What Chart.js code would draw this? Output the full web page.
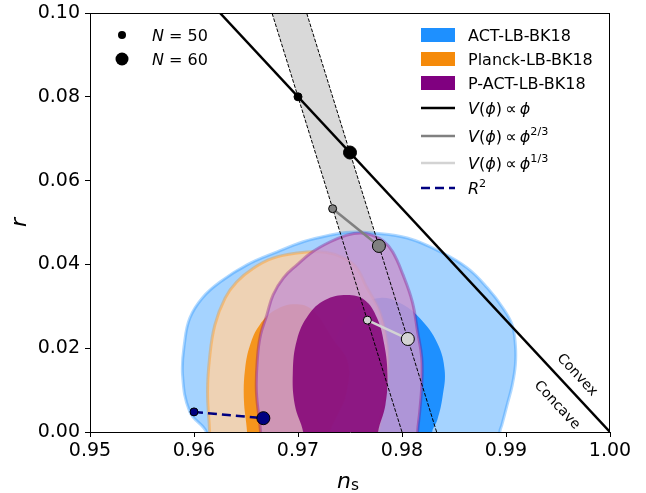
<!DOCTYPE html>
<html>
<head>
<meta charset="utf-8">
<script src="https://cdn.jsdelivr.net/npm/chart.js@4.4.1/dist/chart.umd.min.js"></script>
<style>
  body { margin: 0; background: #fff; }
  canvas { display: block; }
</style>
</head>
<body>
<canvas id="chart" width="646" height="493"></canvas>
<script>
const FONT = '"DejaVu Sans", sans-serif';

// axis ticks
const nsTicks = [0.95, 0.96, 0.97, 0.98, 0.99, 1.0];
const rTicks = [0, 0.02, 0.04, 0.06, 0.08, 0.1];

// contours (ns, r); the ends dip below r = 0 and get clipped
const actOuterNs = [0.9612, 0.9612, 0.9596, 0.9589, 0.9591, 0.9596, 0.9608, 0.9625, 0.9651, 0.9680, 0.9705, 0.9731, 0.9750, 0.9772, 0.9805, 0.9837, 0.9863, 0.9882, 0.9897, 0.9906, 0.9909, 0.9909, 0.9906, 0.9901, 0.9896, 0.9894, 0.9894];
const actOuterR = [-0.004, 0, 0.0048, 0.0136, 0.0215, 0.0272, 0.0320, 0.0358, 0.0399, 0.0430, 0.0454, 0.0470, 0.0477, 0.0475, 0.0463, 0.0430, 0.0391, 0.0344, 0.0296, 0.0255, 0.0208, 0.0160, 0.0112, 0.0064, 0.0017, 0, -0.004];
const actInnerNs = [0.9731, 0.9731, 0.9726, 0.9728, 0.9736, 0.9747, 0.9760, 0.9779, 0.9798, 0.9817, 0.9834, 0.9841, 0.9839, 0.9834, 0.9829, 0.9829];
const actInnerR = [-0.004, 0, 0.0076, 0.0148, 0.0220, 0.0272, 0.0303, 0.0320, 0.0308, 0.0272, 0.0212, 0.0148, 0.0084, 0.0029, 0, -0.004];

const planckOuterNs = [0.9615, 0.9615, 0.9613, 0.9615, 0.9620, 0.9630, 0.9641, 0.9657, 0.9676, 0.9699, 0.9721, 0.9740, 0.9755, 0.9766, 0.9779, 0.9786, 0.9786, 0.9782, 0.9777, 0.9777];
const planckOuterR = [-0.004, 0, 0.0096, 0.0177, 0.0255, 0.0320, 0.0358, 0.0391, 0.0415, 0.0427, 0.0430, 0.0420, 0.0396, 0.0346, 0.0284, 0.0203, 0.0131, 0.0060, 0, -0.004];
const planckInnerNs = [0.9651, 0.9651, 0.9648, 0.9649, 0.9654, 0.9663, 0.9678, 0.9697, 0.9714, 0.9734, 0.9748, 0.9746, 0.9738, 0.9731, 0.9731];
const planckInnerR = [-0.004, 0, 0.0076, 0.0148, 0.0208, 0.0255, 0.0291, 0.0305, 0.0291, 0.0220, 0.0165, 0.0088, 0.0041, 0, -0.004];

const pactOuterNs = [0.9664, 0.9664, 0.9660, 0.9661, 0.9664, 0.9670, 0.9676, 0.9686, 0.9699, 0.9714, 0.9731, 0.9747, 0.9760, 0.9771, 0.9782, 0.9791, 0.9801, 0.9810, 0.9815, 0.9819, 0.9819, 0.9817, 0.9815, 0.9815];
const pactOuterR = [-0.004, 0, 0.0096, 0.0177, 0.0232, 0.0279, 0.0327, 0.0368, 0.0399, 0.0430, 0.0454, 0.0470, 0.0475, 0.0470, 0.0456, 0.0430, 0.0375, 0.0310, 0.0239, 0.0177, 0.0112, 0.0048, 0, -0.004];
const pactInnerNs = [0.9705, 0.9705, 0.9697, 0.9695, 0.9699, 0.9710, 0.9726, 0.9747, 0.9764, 0.9776, 0.9783, 0.9786, 0.9784, 0.9777, 0.9777];
const pactInnerR = [-0.004, 0, 0.0064, 0.0141, 0.0220, 0.0279, 0.0315, 0.0327, 0.0315, 0.0272, 0.0208, 0.0136, 0.0064, 0, -0.004];

// model predictions, [N = 50, N = 60]
const linearNs = [0.97, 0.975];
const linearR = [0.08, 0.0667];
const twoThirdNs = [0.97333, 0.97778];
const twoThirdR = [0.0533, 0.0444];
const oneThirdNs = [0.97667, 0.98056];
const oneThirdR = [0.0267, 0.0222];
const r2Ns = [0.96, 0.96667];
const r2R = [0.0048, 0.0033];

// V ~ phi line (convex/concave boundary) and the constant-N lines
const boundaryNs = [0.9625, 1.0];
const boundaryR = [0.1, 0];
const n50Ns = [0.98, 0.9675];
const n50R = [0, 0.1];
const n60Ns = [0.98333, 0.97083];
const n60R = [0, 0.1];

const patchLabels = ['ACT-LB-BK18', 'Planck-LB-BK18', 'P-ACT-LB-BK18'];
const patchColors = ['#1e90ff', '#f58a0a', '#800080'];

const pts = (xs, ys) => xs.map((x, i) => ({ x: x, y: ys[i] }));

function contour(xs, ys, fill, edge, edgeWidth, order) {
  return {
    data: pts(xs, ys),
    showLine: true,
    fill: 'shape',
    backgroundColor: fill,
    borderColor: edge,
    borderWidth: edgeWidth,
    pointRadius: 0,
    tension: 0.4,
    order: order,
  };
}

function line(xs, ys, color, width, dash, order) {
  return {
    data: pts(xs, ys),
    showLine: true,
    fill: false,
    borderColor: color,
    borderWidth: width,
    borderDash: dash,
    pointRadius: 0,
    tension: 0,
    order: order,
  };
}

function markers(xs, ys, lineColor, fillColor, dash, order) {
  return {
    data: pts(xs, ys),
    showLine: lineColor !== null,
    fill: false,
    borderColor: lineColor || 'rgba(0,0,0,0)',
    borderWidth: 2.5,
    borderDash: dash,
    pointRadius: [4, 6.5],
    pointBackgroundColor: fillColor,
    pointBorderColor: '#000',
    pointBorderWidth: 1,
    tension: 0,
    order: order,
  };
}

function drawRich(ctx, x, y, parts, size, align) {
  const items = parts.map(p => {
    const s = p.sup || p.sub ? size * 0.7 : size;
    const font = (p.i ? 'italic ' : '') + s + 'px ' + FONT;
    ctx.font = font;
    return { p: p, font: font, w: ctx.measureText(p.t).width };
  });
  const total = items.reduce((a, b) => a + b.w, 0);
  let cx = align === 'center' ? x - total / 2 : x;
  ctx.textAlign = 'left';
  ctx.textBaseline = 'alphabetic';
  for (const it of items) {
    ctx.font = it.font;
    const dy = it.p.sup ? -size * 0.42 : it.p.sub ? size * 0.1 : 0;
    ctx.fillText(it.p.t, cx, y + dy);
    cx += it.w;
  }
}

const V = [{ t: 'V', i: 1 }, { t: '(' }, { t: 'ϕ', i: 1 }, { t: ')' }, { t: '\u2009∝\u2009' }, { t: 'ϕ', i: 1 }];
const lineLegend = [
  { parts: V, color: '#000', dash: [] },
  { parts: V.concat([{ t: '2/3', sup: 1 }]), color: '#808080', dash: [] },
  { parts: V.concat([{ t: '1/3', sup: 1 }]), color: '#d3d3d3', dash: [] },
  { parts: [{ t: 'R', i: 1 }, { t: '2', sup: 1 }], color: '#000080', dash: [9, 5] },
];
const lineLegendY = [108, 136, 163, 188];

const decor = {
  id: 'decor',
  afterDraw(chart) {
    const ctx = chart.ctx;
    const a = chart.chartArea;
    const sx = chart.scales.x;
    const sy = chart.scales.y;
    ctx.save();
    ctx.fillStyle = '#000';
    ctx.strokeStyle = '#000';

    // top and right spines
    ctx.lineWidth = 1;
    ctx.beginPath();
    ctx.moveTo(a.left, a.top + 0.5);
    ctx.lineTo(a.right, a.top + 0.5);
    ctx.moveTo(a.right - 0.5, a.top);
    ctx.lineTo(a.right - 0.5, a.bottom);
    ctx.stroke();

    // axis titles
    drawRich(ctx, 348, 488, [{ t: 'n', i: 1 }, { t: 's', sub: 1 }], 22, 'center');
    ctx.save();
    ctx.translate(26, (a.top + a.bottom) / 2);
    ctx.rotate(-Math.PI / 2);
    drawRich(ctx, 0, 0, [{ t: 'r', i: 1 }], 22, 'center');
    ctx.restore();

    // convex / concave labels along the V ~ phi line
    const ang = Math.atan2(sy.getPixelForValue(0) - sy.getPixelForValue(0.1),
      sx.getPixelForValue(1.0) - sx.getPixelForValue(0.9625));
    ctx.font = '14px ' + FONT;
    ctx.textAlign = 'center';
    ctx.textBaseline = 'middle';
    [['Convex', 0.99683, 0.0136], ['Concave', 0.9949, 0.0064]].forEach(([t, x, y]) => {
      ctx.save();
      ctx.translate(sx.getPixelForValue(x), sy.getPixelForValue(y));
      ctx.rotate(ang);
      ctx.fillText(t, 0, 0);
      ctx.restore();
    });

    // marker legend (top left)
    [[35, 4, '50'], [59, 6.5, '60']].forEach(([y, rad, n]) => {
      ctx.beginPath();
      ctx.arc(122, y, rad, 0, Math.PI * 2);
      ctx.fill();
      drawRich(ctx, 152, y + 6, [{ t: 'N', i: 1 }, { t: ' = ' + n }], 16, 'left');
    });

    // dataset legend (top right)
    patchLabels.forEach((lab, k) => {
      const y = 35 + 24 * k;
      ctx.fillStyle = patchColors[k];
      ctx.fillRect(421, y - 7, 34, 14);
      ctx.fillStyle = '#000';
      drawRich(ctx, 468, y + 6, [{ t: lab }], 16, 'left');
    });
    lineLegend.forEach((e, k) => {
      const y = lineLegendY[k];
      ctx.strokeStyle = e.color;
      ctx.lineWidth = 2.5;
      ctx.setLineDash(e.dash);
      ctx.beginPath();
      ctx.moveTo(421, y);
      ctx.lineTo(455, y);
      ctx.stroke();
      ctx.setLineDash([]);
      ctx.fillStyle = '#000';
      drawRich(ctx, 468, y + 6, e.parts, 16, 'left');
    });
    ctx.restore();
  },
};

const axisFit = (s) => {
  s.paddingLeft = 0;
  s.paddingRight = 0;
  s.paddingTop = 0;
  s.paddingBottom = 0;
  if (s.axis === 'x') s.height = 61; else s.width = 90;
};

new Chart(document.getElementById('chart'), {
  type: 'scatter',
  data: {
    datasets: [
      // gray band between the N = 50 and N = 60 lines
      {
        data: pts(n50Ns.concat(n60Ns.slice().reverse()), n50R.concat(n60R.slice().reverse())),
        showLine: true, fill: 'shape', backgroundColor: '#d9d9d9', borderWidth: 0,
        pointRadius: 0, order: 40,
      },
      contour(actOuterNs, actOuterR, 'rgba(149,203,255,0.85)', 'rgba(30,144,255,0.35)', 3, 30),
      contour(actInnerNs, actInnerR, 'rgb(30,144,255)', 'rgba(0,0,0,0)', 0, 29),
      contour(planckOuterNs, planckOuterR, 'rgba(251,210,167,0.85)', 'rgba(255,140,0,0.35)', 3, 28),
      contour(planckInnerNs, planckInnerR, 'rgba(247,139,3,0.85)', 'rgba(0,0,0,0)', 0, 27),
      contour(pactOuterNs, pactOuterR, 'rgba(200,151,208,0.85)', 'rgba(128,0,128,0.35)', 3, 26),
      contour(pactInnerNs, pactInnerR, 'rgba(130,0,118,0.85)', 'rgba(0,0,0,0)', 0, 25),
      line(n50Ns, n50R, '#000', 1, [3.7, 1.6], 20),
      line(n60Ns, n60R, '#000', 1, [3.7, 1.6], 19),
      line(boundaryNs, boundaryR, '#000', 2.5, [], 18),
      markers(linearNs, linearR, null, '#000', [], 4),
      markers(twoThirdNs, twoThirdR, '#808080', '#808080', [], 3),
      markers(oneThirdNs, oneThirdR, '#d3d3d3', '#d3d3d3', [], 2),
      markers(r2Ns, r2R, '#000080', '#000080', [9, 5], 1),
    ],
  },
  options: {
    responsive: false,
    animation: false,
    events: [],
    devicePixelRatio: 1,
    layout: { padding: { top: 13, right: 36, left: 0, bottom: 0 } },
    plugins: { legend: { display: false }, tooltip: { enabled: false } },
    scales: {
      x: {
        type: 'linear', min: 0.95, max: 1.0,
        afterBuildTicks: (s) => { s.ticks = nsTicks.map(v => ({ value: v })); },
        afterFit: axisFit,
        ticks: { color: '#000', font: { family: FONT, size: 19 }, padding: 3, maxRotation: 0, callback: v => v.toFixed(2) },
        grid: { drawOnChartArea: false, drawTicks: true, tickLength: 5, tickColor: '#000', tickWidth: 1 },
        border: { display: true, color: '#000', width: 1 },
      },
      y: {
        type: 'linear', min: 0, max: 0.1,
        afterBuildTicks: (s) => { s.ticks = rTicks.map(v => ({ value: v })); },
        afterFit: axisFit,
        ticks: { color: '#000', font: { family: FONT, size: 19 }, padding: 5, callback: v => v.toFixed(2) },
        grid: { drawOnChartArea: false, drawTicks: true, tickLength: 5, tickColor: '#000', tickWidth: 1 },
        border: { display: true, color: '#000', width: 1 },
      },
    },
  },
  plugins: [decor],
});
</script>
</body>
</html>
